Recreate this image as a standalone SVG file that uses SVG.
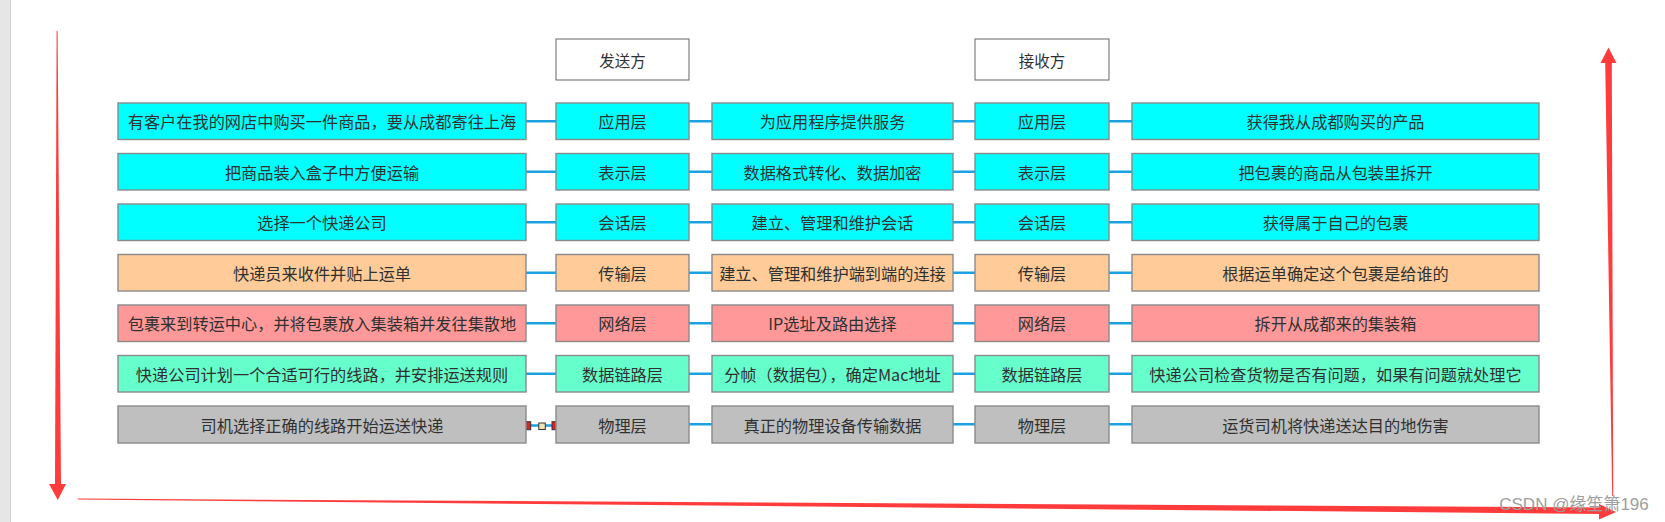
<svg xmlns="http://www.w3.org/2000/svg" width="1665" height="522" viewBox="0 0 1665 522">
<style>
.t{font-family:"Noto Sans CJK SC","Liberation Sans",sans-serif;font-size:16.2px;fill:#303030;text-anchor:middle;dominant-baseline:central}
.h{font-size:15.5px}
.b{stroke:#8a8a8a;stroke-width:1.4}
.cy{fill:#00ffff}.or{fill:#ffcc99}.rd{fill:#ff9999}.mt{fill:#66ffcc}.gy{fill:#bfbfbf}.wh{fill:#fff;stroke:#666}
.c{stroke:#1ba1e2;stroke-width:2.5;fill:none}
.arr{fill:#ff3b3b}
.sq{stroke:#333;stroke-width:1}
</style>
<rect x="0" y="0" width="1665" height="522" fill="#fff"/>
<rect x="0" y="0" width="10" height="522" fill="#e6e6e6"/>
<line x1="10.5" y1="0" x2="10.5" y2="522" stroke="#cfcfcf" stroke-width="1"/>

<g id="connectors">
<path class="c" d="M526 121.25H556M689 121.25H712M953 121.25H975M1109 121.25H1132"/>
<path class="c" d="M526 171.75H556M689 171.75H712M953 171.75H975M1109 171.75H1132"/>
<path class="c" d="M526 222.25H556M689 222.25H712M953 222.25H975M1109 222.25H1132"/>
<path class="c" d="M526 272.75H556M689 272.75H712M953 272.75H975M1109 272.75H1132"/>
<path class="c" d="M526 323.25H556M689 323.25H712M953 323.25H975M1109 323.25H1132"/>
<path class="c" d="M526 373.75H556M689 373.75H712M953 373.75H975M1109 373.75H1132"/>
<path class="c" d="M526 425.5H556M689 424.25H712M953 424.25H975M1109 424.25H1132"/>
<rect class="sq" x="522.7" y="421.7" width="8" height="8" fill="#e02020"/>
<rect class="sq" x="538.8" y="423" width="6.5" height="6.5" fill="#f3e3b0"/>
<rect class="sq" x="552" y="421.7" width="8" height="8" fill="#e02020"/>
</g>

<g id="header-sender"><rect class="wh" x="556" y="39" width="133" height="41"/><text class="t h" x="622.5" y="59.5">发送方</text></g>
<g id="header-receiver"><rect class="wh" x="975" y="39" width="134" height="41"/><text class="t h" x="1042" y="59.5">接收方</text></g>

<g id="row1">
<g id="r1c1"><rect class="b cy" x="118" y="103" width="408" height="36.5"/><text class="t" x="322" y="121.25">有客户在我的网店中购买一件商品，要从成都寄往上海</text></g>
<g id="r1c2"><rect class="b cy" x="556" y="103" width="133" height="36.5"/><text class="t" x="622.5" y="121.25">应用层</text></g>
<g id="r1c3"><rect class="b cy" x="712" y="103" width="241" height="36.5"/><text class="t" x="832.5" y="121.25">为应用程序提供服务</text></g>
<g id="r1c4"><rect class="b cy" x="975" y="103" width="134" height="36.5"/><text class="t" x="1042" y="121.25">应用层</text></g>
<g id="r1c5"><rect class="b cy" x="1132" y="103" width="407" height="36.5"/><text class="t" x="1335.5" y="121.25">获得我从成都购买的产品</text></g>
</g>

<g id="row2">
<g id="r2c1"><rect class="b cy" x="118" y="153.5" width="408" height="36.5"/><text class="t" x="322" y="171.75">把商品装入盒子中方便运输</text></g>
<g id="r2c2"><rect class="b cy" x="556" y="153.5" width="133" height="36.5"/><text class="t" x="622.5" y="171.75">表示层</text></g>
<g id="r2c3"><rect class="b cy" x="712" y="153.5" width="241" height="36.5"/><text class="t" x="832.5" y="171.75">数据格式转化、数据加密</text></g>
<g id="r2c4"><rect class="b cy" x="975" y="153.5" width="134" height="36.5"/><text class="t" x="1042" y="171.75">表示层</text></g>
<g id="r2c5"><rect class="b cy" x="1132" y="153.5" width="407" height="36.5"/><text class="t" x="1335.5" y="171.75">把包裹的商品从包装里拆开</text></g>
</g>

<g id="row3">
<g id="r3c1"><rect class="b cy" x="118" y="204" width="408" height="36.5"/><text class="t" x="322" y="222.25">选择一个快递公司</text></g>
<g id="r3c2"><rect class="b cy" x="556" y="204" width="133" height="36.5"/><text class="t" x="622.5" y="222.25">会话层</text></g>
<g id="r3c3"><rect class="b cy" x="712" y="204" width="241" height="36.5"/><text class="t" x="832.5" y="222.25">建立、管理和维护会话</text></g>
<g id="r3c4"><rect class="b cy" x="975" y="204" width="134" height="36.5"/><text class="t" x="1042" y="222.25">会话层</text></g>
<g id="r3c5"><rect class="b cy" x="1132" y="204" width="407" height="36.5"/><text class="t" x="1335.5" y="222.25">获得属于自己的包裹</text></g>
</g>

<g id="row4">
<g id="r4c1"><rect class="b or" x="118" y="254.5" width="408" height="36.5"/><text class="t" x="322" y="272.75">快递员来收件并贴上运单</text></g>
<g id="r4c2"><rect class="b or" x="556" y="254.5" width="133" height="36.5"/><text class="t" x="622.5" y="272.75">传输层</text></g>
<g id="r4c3"><rect class="b or" x="712" y="254.5" width="241" height="36.5"/><text class="t" x="832.5" y="272.75">建立、管理和维护端到端的连接</text></g>
<g id="r4c4"><rect class="b or" x="975" y="254.5" width="134" height="36.5"/><text class="t" x="1042" y="272.75">传输层</text></g>
<g id="r4c5"><rect class="b or" x="1132" y="254.5" width="407" height="36.5"/><text class="t" x="1335.5" y="272.75">根据运单确定这个包裹是给谁的</text></g>
</g>

<g id="row5">
<g id="r5c1"><rect class="b rd" x="118" y="305" width="408" height="36.5"/><text class="t" x="322" y="323.25">包裹来到转运中心，并将包裹放入集装箱并发往集散地</text></g>
<g id="r5c2"><rect class="b rd" x="556" y="305" width="133" height="36.5"/><text class="t" x="622.5" y="323.25">网络层</text></g>
<g id="r5c3"><rect class="b rd" x="712" y="305" width="241" height="36.5"/><text class="t" x="832.5" y="323.25">IP选址及路由选择</text></g>
<g id="r5c4"><rect class="b rd" x="975" y="305" width="134" height="36.5"/><text class="t" x="1042" y="323.25">网络层</text></g>
<g id="r5c5"><rect class="b rd" x="1132" y="305" width="407" height="36.5"/><text class="t" x="1335.5" y="323.25">拆开从成都来的集装箱</text></g>
</g>

<g id="row6">
<g id="r6c1"><rect class="b mt" x="118" y="355.5" width="408" height="36.5"/><text class="t" x="322" y="373.75">快递公司计划一个合适可行的线路，并安排运送规则</text></g>
<g id="r6c2"><rect class="b mt" x="556" y="355.5" width="133" height="36.5"/><text class="t" x="622.5" y="373.75">数据链路层</text></g>
<g id="r6c3"><rect class="b mt" x="712" y="355.5" width="241" height="36.5"/><text class="t" x="832.5" y="373.75">分帧（数据包），确定Mac地址</text></g>
<g id="r6c4"><rect class="b mt" x="975" y="355.5" width="134" height="36.5"/><text class="t" x="1042" y="373.75">数据链路层</text></g>
<g id="r6c5"><rect class="b mt" x="1132" y="355.5" width="407" height="36.5"/><text class="t" x="1335.5" y="373.75">快递公司检查货物是否有问题，如果有问题就处理它</text></g>
</g>

<g id="row7">
<g id="r7c1"><rect class="b gy" x="118" y="406" width="408" height="37"/><text class="t" x="322" y="424.5">司机选择正确的线路开始运送快递</text></g>
<g id="r7c2"><rect class="b gy" x="556" y="406" width="133" height="37"/><text class="t" x="622.5" y="424.5">物理层</text></g>
<g id="r7c3"><rect class="b gy" x="712" y="406" width="241" height="37"/><text class="t" x="832.5" y="424.5">真正的物理设备传输数据</text></g>
<g id="r7c4"><rect class="b gy" x="975" y="406" width="134" height="37"/><text class="t" x="1042" y="424.5">物理层</text></g>
<g id="r7c5"><rect class="b gy" x="1132" y="406" width="407" height="37"/><text class="t" x="1335.5" y="424.5">运货司机将快递送达目的地伤害</text></g>
</g>

<g id="red-arrows">
<polygon class="arr" points="56.6,31 57.6,31 61,485 55,485"/>
<polygon class="arr" points="49,484 66,484 57.8,500"/>
<polygon class="arr" points="78,498.6 78,499.6 1601,514 1601,507.5"/>
<polygon class="arr" points="1599,504 1599,519.5 1616,512"/>
<polygon class="arr" points="1612.2,496 1613.2,496 1611.8,62 1605.2,62"/>
<polygon class="arr" points="1600.5,63 1616.5,63 1608.5,47.5"/>
</g>

<text x="1574" y="504" style="font-family:'Liberation Sans','Noto Sans CJK SC',sans-serif;font-size:17px;fill:#9e9e9e;text-anchor:middle;dominant-baseline:central">CSDN @缘笙箫196</text>
</svg>
